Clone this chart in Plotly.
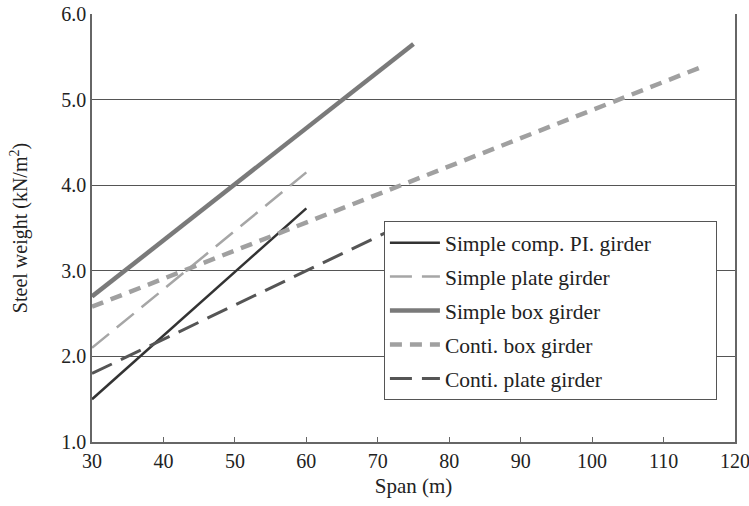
import plotly.graph_objects as go

# spans (m) and steel weight (kN/m2)
span_comp_pi = [30, 60]
w_comp_pi = [1.50, 3.73]

span_plate = [30, 60]
w_plate = [2.10, 4.15]

span_box = [30, 75]
w_box = [2.70, 5.65]

span_conti_box = [30, 115]
w_conti_box = [2.58, 5.37]

span_conti_plate = [30, 72]
w_conti_plate = [1.80, 3.48]

names = ["Simple comp. PI. girder", "Simple plate girder", "Simple box girder",
         "Conti. box girder", "Conti. plate girder"]

FONT = "Liberation Serif"
PAD = "\u00a0" * 11  # widens the legend box a little

fig = go.Figure()
fig.add_trace(go.Scatter(x=span_comp_pi, y=w_comp_pi, mode="lines", name=names[0] + PAD,
                         legendgroup="a", line=dict(color="#333333", width=2.5)))
fig.add_trace(go.Scatter(x=span_plate, y=w_plate, mode="lines", name=names[1],
                         legendgroup="b", line=dict(color="#a6a6a6", width=2.5, dash="22px,10px")))
fig.add_trace(go.Scatter(x=span_box, y=w_box, mode="lines", name=names[2],
                         legendgroup="c", line=dict(color="#7a7a7a", width=4.5)))
fig.add_trace(go.Scatter(x=span_conti_box, y=w_conti_box, mode="lines", name=names[3],
                         legendgroup="d", line=dict(color="#a0a0a0", width=4.5, dash="12px,8px")))
fig.add_trace(go.Scatter(x=span_conti_plate, y=w_conti_plate, mode="lines", name=names[4],
                         legendgroup="e", line=dict(color="#555555", width=3, dash="22px,10px")))

fig.update_layout(
    width=749, height=506,
    margin=dict(l=92, r=14, t=14, b=64, autoexpand=False),
    plot_bgcolor="white", paper_bgcolor="white",
    font=dict(family=FONT, size=20, color="#222222"),
    legend=dict(x=0.454, y=0.516, xanchor="left", yanchor="top",
                bgcolor="white", bordercolor="#555555", borderwidth=1,
                tracegroupgap=3, itemwidth=50, font=dict(size=21.5)),
    xaxis=dict(range=[30, 120], dtick=10, showgrid=False, zeroline=False,
               automargin=False, ticklabeloverflow="allow",
               showline=True, linecolor="#666666", linewidth=1.5,
               ticks="inside", ticklen=5, tickcolor="#666666",
               title=dict(text="Span (m)", font=dict(size=21), standoff=8)),
    yaxis=dict(range=[1, 6], dtick=1, tickformat=".1f", showgrid=True,
               automargin=False, ticklabeloverflow="allow",
               gridcolor="#555555", gridwidth=1, zeroline=False,
               showline=True, linecolor="#666666", linewidth=1.5, mirror=True,
               ticks="", title=dict(text="Steel weight (kN/m<sup>2</sup>)",
                                    font=dict(size=20), standoff=28)),
)

# drop the default 8px body margin so the figure fills the window
fig.write_html("out.html", config={"displayModeBar": False},
               post_script="document.body.style.margin='0';")
